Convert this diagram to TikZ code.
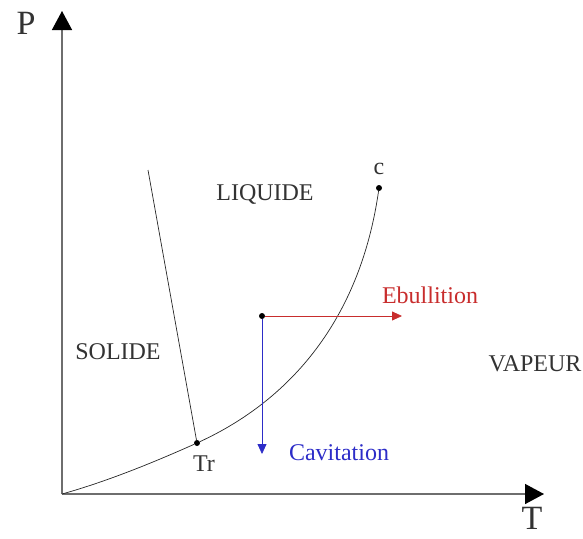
\documentclass[tikz,border=0pt]{standalone}
\usepackage{fontspec}
\setmainfont{Liberation Serif}
\usetikzlibrary{arrows.meta,positioning}
\definecolor{phasered}{RGB}{200,45,45}
\definecolor{phaseblue}{RGB}{45,45,200}
\definecolor{axisgray}{RGB}{110,110,110}
\tikzset{
    axis/.style={draw=axisgray, line width=1.4pt, -{Triangle[length=19pt,width=20pt,color=black]}},
    boundary/.style={draw=black!85, line width=0.7pt},
    dot/.style={circle, fill=black, inner sep=0pt, minimum size=6pt},
    path/.style={line width=0.8pt, -{Triangle[length=10pt,width=9pt]}},
    zone/.style={font=\fontsize{24}{24}\selectfont, text=black!80},
    axlabel/.style={font=\fontsize{34}{34}\selectfont, text=black!80},
}

\begin{document}
\begin{tikzpicture}[x=1pt, y=-1pt]
    \useasboundingbox (0,0) rectangle (583,538);

    % axes
    \coordinate (O) at (62,494);
    \coordinate (pmax) at (62,11);
    \coordinate (tmax) at (544,494);
    \draw[axis] (O) -- (pmax);
    \draw[axis] (O) -- (tmax);
    \node[axlabel] (P) at (26,23) {P};
    \node[axlabel] (T) at (532,518) {T};

    % triple point, critical point, start point
    \node[dot] (tr) at (197,443) {};
    \node[dot] (c) at (379,188) {};
    \node[dot] (m) at (262,316) {};
    \node[zone] (trlabel) at (204,464) {Tr};
    \node[zone] (clabel) at (379,169) {c};

    % phase boundaries
    \coordinate (s) at (148,170);
    \draw[boundary] (s) -- (tr);
    \draw[boundary] (O) .. controls (105,482) and (150,464) .. (tr)
                        .. controls (290,400) and (360,320) .. (c);

    % zones
    \node[zone] (liq) at (265,194) {LIQUIDE};
    \node[zone] (sol) at (118,352) {SOLIDE};
    \node[zone] (vap) at (535,364) {VAPEUR};

    % ebullition and cavitation
    \coordinate (e) at (402,316);
    \coordinate (v) at (262,454);
    \draw[path, phasered] (m) -- (e);
    \draw[path, phaseblue] (m) -- (v);
    \node[zone, text=phasered] (ebu) at (430,295) {Ebullition};
    \node[zone, text=phaseblue] (cav) at (339,453) {Cavitation};
\end{tikzpicture}
\end{document}
